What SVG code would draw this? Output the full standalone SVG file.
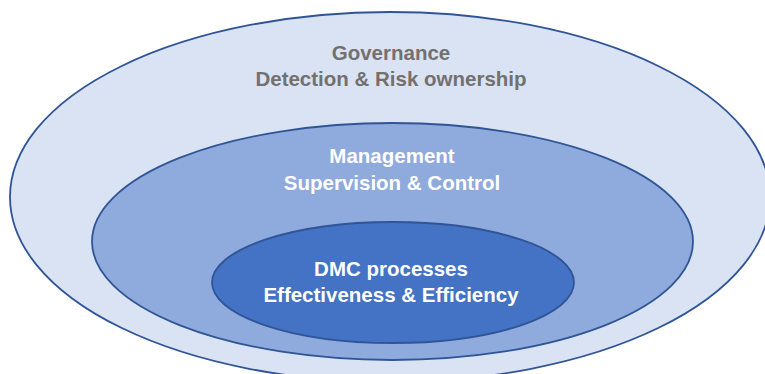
<svg xmlns="http://www.w3.org/2000/svg" width="765" height="374" viewBox="0 0 765 374">
  <style>
    .ring { stroke: #2F5597; stroke-width: 1.8; }
    .label { font-family: "Liberation Sans", Arial, sans-serif; font-size: 20.5px; font-weight: bold; text-anchor: middle; }
    .grey { fill: #737070; }
    .white { fill: #FFFFFF; }
  </style>
  <rect width="765" height="374" fill="#FFFFFF"/>
  <g id="governance">
    <ellipse class="ring" cx="390" cy="197" rx="380" ry="185" fill="#DAE3F3"/>
    <text class="label grey" x="391" y="60">Governance</text>
    <text class="label grey" x="391" y="86">Detection &amp; Risk ownership</text>
  </g>
  <g id="management">
    <ellipse class="ring" cx="392.5" cy="241.5" rx="300.5" ry="118.5" fill="#8FAADC"/>
    <text class="label white" x="392" y="163">Management</text>
    <text class="label white" x="392" y="190">Supervision &amp; Control</text>
  </g>
  <g id="dmc-processes">
    <ellipse class="ring" cx="393" cy="282.5" rx="181" ry="60.5" fill="#4472C4"/>
    <text class="label white" x="391" y="276">DMC processes</text>
    <text class="label white" x="391" y="302">Effectiveness &amp; Efficiency</text>
  </g>
  <g id="connectors"/>
</svg>
